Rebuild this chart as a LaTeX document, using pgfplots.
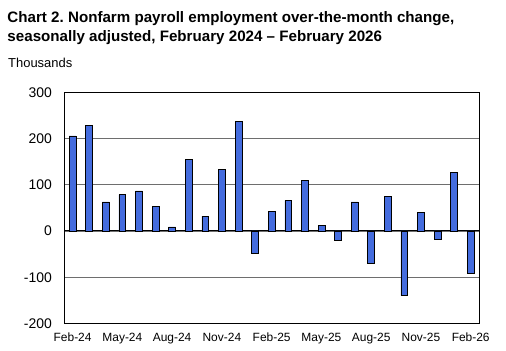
\documentclass[border=0pt]{standalone}
\usepackage{pgfplots}
\pgfplotsset{compat=1.18}
\usepackage{fontspec}
\setmainfont{Liberation Sans}
\frenchspacing
\definecolor{barblue}{RGB}{68,108,222}
\definecolor{gridgray}{RGB}{110,110,110}
\pgfplotstableread{
x val
0 206
1 228
2 63
3 79
4 87
5 53
6 9
7 155
8 32
9 134
10 237
11 -48
12 42
13 66
14 109
15 12
16 -20
17 63
18 -69
19 75
20 -140
21 40
22 -17
23 126
24 -91
}\payroll
\begin{document}
\begin{tikzpicture}
\useasboundingbox (0,0) rectangle (506bp,351bp);
\node[anchor=base west,font=\bfseries\fontsize{15.2}{17}\selectfont,inner sep=0pt] at (7.3bp,351bp-22.7bp) {Chart 2. Nonfarm payroll employment over-the-month change,};
\node[anchor=base west,font=\bfseries\fontsize{15.2}{17}\selectfont,inner sep=0pt] at (7.3bp,351bp-41.7bp) {seasonally adjusted, February 2024 -- February 2026};
\node[anchor=base west,font=\fontsize{13}{15}\selectfont,inner sep=0pt] at (8bp,351bp-67.7bp) {Thousands};
\begin{axis}[
  at={(64.3bp,27.6bp)}, anchor=south west,
  width=414.7bp, height=231bp, scale only axis,
  xmin=-0.5, xmax=24.5, ymin=-200, ymax=300,
  ytick={-200,-100,0,100,200,300},
  xtick={0,3,6,9,12,15,18,21,24},
  xticklabels={Feb-24,May-24,Aug-24,Nov-24,Feb-25,May-25,Aug-25,Nov-25,Feb-26},
  major tick length=0pt,
  ymajorgrids, grid style={gridgray, line width=0.7bp},
  axis line style={black, line width=0.9bp},
  xticklabel style={font=\fontsize{12}{14}\selectfont, yshift=-6bp},
  yticklabel style={font=\fontsize{14}{16}\selectfont, xshift=-9bp},
  /pgf/number format/assume math mode=true,
  extra y ticks={0}, extra y tick labels={},
  extra y tick style={grid style={black, line width=1bp}},
  clip=false,
]
\addplot[ybar, bar width=6.8bp, fill=barblue, draw=black, line width=0.6bp] table[x=x,y=val]{\payroll};
\end{axis}
\end{tikzpicture}
\end{document}
